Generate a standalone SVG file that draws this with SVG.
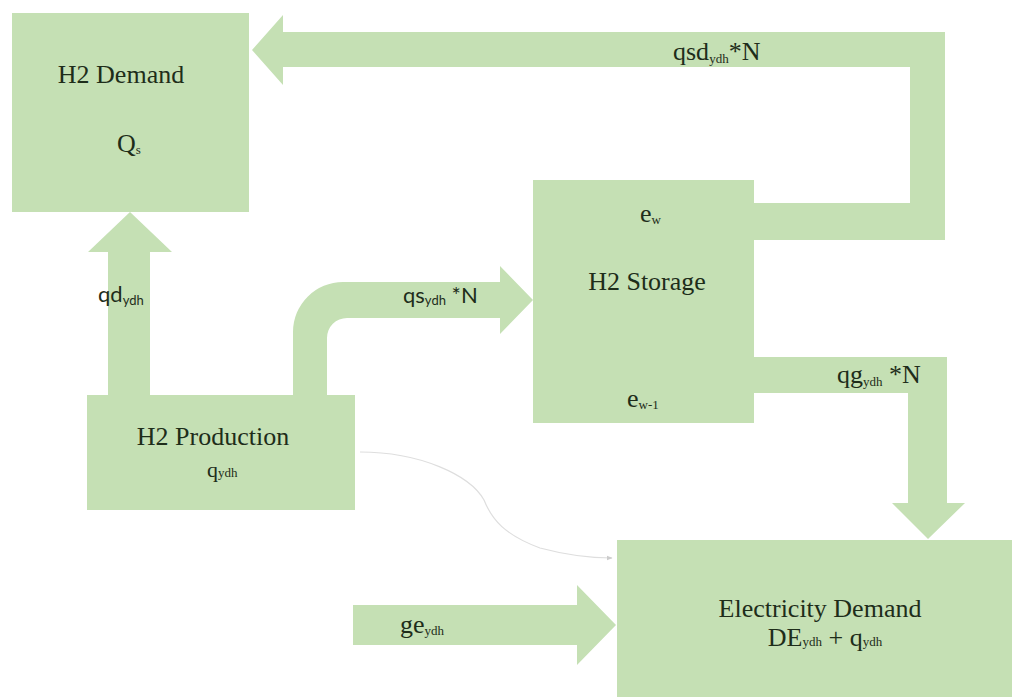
<svg xmlns="http://www.w3.org/2000/svg" width="1019" height="699" viewBox="0 0 1019 699">
<style>
.box{fill:#c5e0b4}
.arr{fill:#c5e0b4}
.t{font-family:'Liberation Serif','DejaVu Serif',serif;font-size:26px;fill:#1e2d1a}
.ts{font-family:'Liberation Serif','DejaVu Serif',serif;font-size:22px;fill:#1e2d1a}
.s{font-family:Lato,'Open Sans',sans-serif;font-size:22px;fill:#1e2d1a}
.sub{font-size:13px}
</style>
<defs>
<marker id="thin" viewBox="0 0 10 10" refX="9" refY="5" markerWidth="5" markerHeight="5" orient="auto">
<path d="M0,1 L10,5 L0,9 Z" fill="#cccccc"/>
</marker>
</defs>
<rect width="1019" height="699" fill="#ffffff"/>
<g id="connectors">
<path id="qsd" class="arr" d="M753,203 L910,203 L910,67 L283,67 L283,85 L252,50 L283,15 L283,32 L945,32 L945,240 L753,240 Z"/>
<path id="qg" class="arr" d="M754,357 L947,357 L947,503 L965,503 L928,539 L892,503 L908,503 L908,393 L754,393 Z"/>
<path id="qd" class="arr" d="M108,396 L108,252 L88,252 L130,212 L172,252 L150,252 L150,396 Z"/>
<path id="qs" class="arr" d="M293,396 L293,332 A50,50 0 0 1 343,282 L500,282 L500,266 L533,300 L500,334 L500,318 L347,318 A20,20 0 0 0 327,338 L327,396 Z"/>
<path id="ge" class="arr" d="M353,605 L577,605 L577,585 L616,625 L577,665 L577,645 L353,645 Z"/>
<path id="thinline" d="M360,452 C420,452 470,475 484,500 C492,520 505,535 540,548 C570,556 590,558 612,558" fill="none" stroke="#dedede" stroke-width="1.2" marker-end="url(#thin)"/>
<text class="t" font-family="Liberation Serif, serif" x="673" y="60">qsd<tspan class="sub" dy="3">ydh</tspan><tspan dy="-3">*N</tspan></text>
<text class="t" font-family="Liberation Serif, serif" x="837" y="383">qg<tspan class="sub" dy="3">ydh</tspan><tspan dy="-3"> *N</tspan></text>
<text class="s" x="98" y="302">qd<tspan class="sub" dy="3">ydh</tspan></text>
<text class="s" x="403" y="303">qs<tspan class="sub" dy="2">ydh</tspan><tspan dy="-2"> *N</tspan></text>
<text class="t" font-family="Liberation Serif, serif" x="400" y="633">ge<tspan class="sub" dy="2">ydh</tspan></text>
</g>
<g id="h2demand">
<rect class="box" x="12" y="13" width="237" height="199"/>
<text class="t" font-family="Liberation Serif, serif" x="121" y="83" text-anchor="middle">H2 Demand</text>
<text class="t" font-family="Liberation Serif, serif" x="117" y="152">Q<tspan class="sub" dy="2">s</tspan></text>
</g>
<g id="h2storage">
<rect class="box" x="533" y="180" width="221" height="243"/>
<text class="t" font-family="Liberation Serif, serif" x="640" y="222">e<tspan class="sub" dy="2">w</tspan></text>
<text class="t" font-family="Liberation Serif, serif" x="647" y="290" text-anchor="middle">H2 Storage</text>
<text class="t" font-family="Liberation Serif, serif" x="627" y="407">e<tspan class="sub" dy="2">w-1</tspan></text>
</g>
<g id="h2production">
<rect class="box" x="87" y="395" width="268" height="115"/>
<text class="t" font-family="Liberation Serif, serif" x="213" y="445" text-anchor="middle">H2 Production</text>
<text class="ts" font-family="Liberation Serif, serif" x="207" y="477">q<tspan class="sub">ydh</tspan></text>
</g>
<g id="electricity">
<rect class="box" x="617" y="540" width="395" height="157"/>
<text class="t" font-family="Liberation Serif, serif" x="820" y="617" text-anchor="middle">Electricity Demand</text>
<text class="t" font-family="Liberation Serif, serif" x="825" y="646" text-anchor="middle">DE<tspan class="sub">ydh</tspan> + q<tspan class="sub">ydh</tspan></text>
</g>
</svg>
